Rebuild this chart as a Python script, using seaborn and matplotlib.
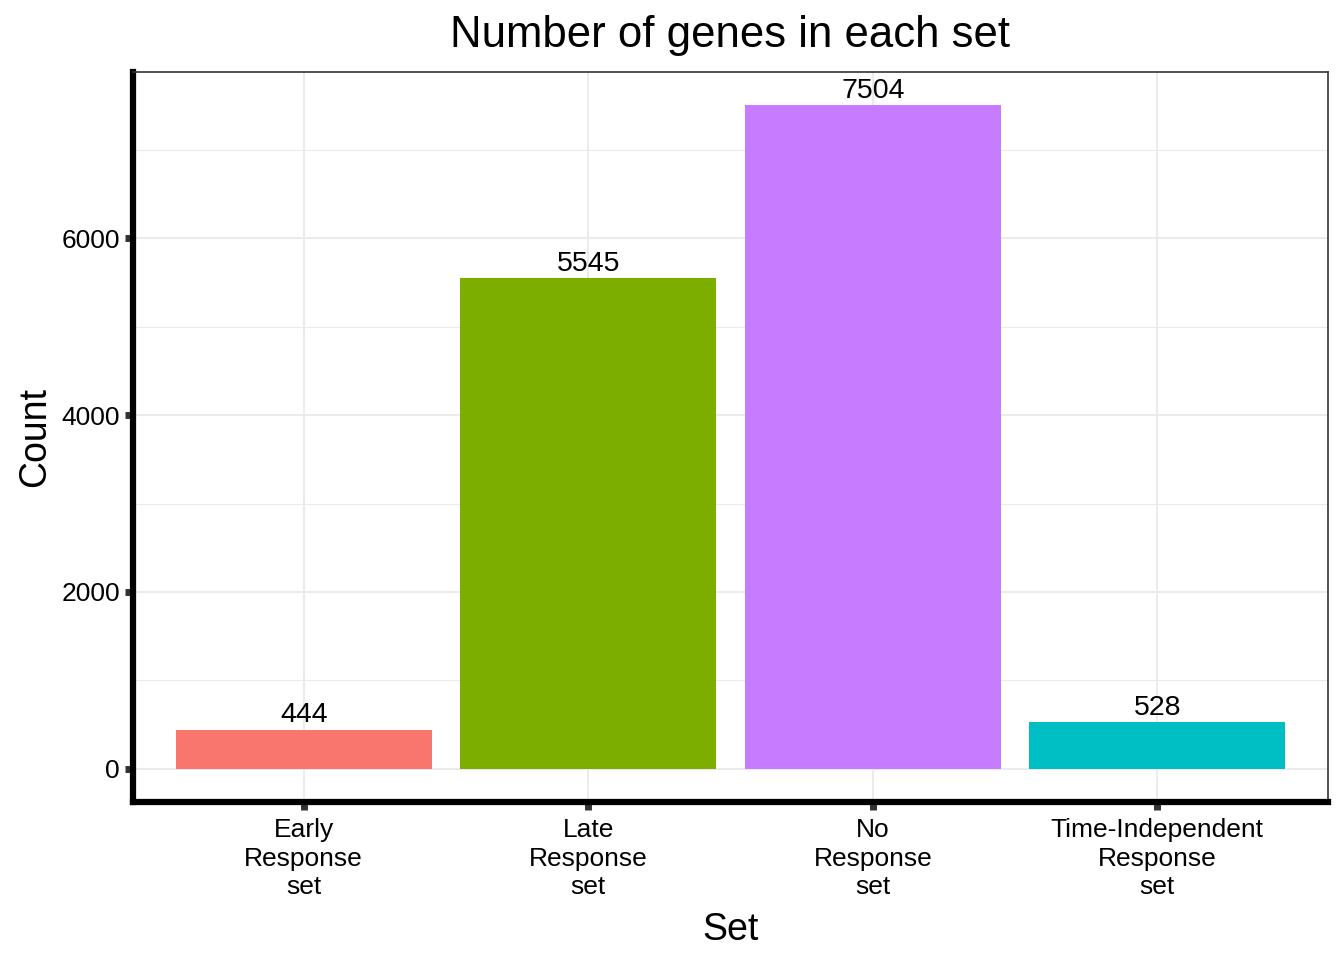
import matplotlib
matplotlib.use('Agg')
import matplotlib.pyplot as plt
import seaborn as sns
import pandas as pd
from matplotlib.ticker import FixedLocator

# values
sets = ['Early\nResponse\nset', 'Late\nResponse\nset', 'No\nResponse\nset', 'Time-Independent\nResponse\nset']
counts = [444, 5545, 7504, 528]
colors = ['#F8766D', '#7CAE00', '#C77CFF', '#00BFC4']

df = pd.DataFrame({'set': sets, 'count': counts})

sns.set_style('white')
plt.rcParams['font.family'] = ['Liberation Sans', 'DejaVu Sans']
plt.rcParams['text.color'] = 'black'

fig = plt.figure(figsize=(13.44, 9.6), dpi=100)
ax = fig.add_axes([133 / 1344, 1 - 802 / 960, (1328 - 133) / 1344, (802 - 72) / 960])

sns.barplot(data=df, x='set', y='count', hue='set', palette=colors,
            width=0.9, legend=False, saturation=1, linewidth=0, ax=ax, zorder=3)

# labels on top of bars
for i, c in enumerate(counts):
    ax.text(i, c + 15, str(c), ha='center', va='bottom', fontsize=20.5, color='black', zorder=4)

ax.set_xlim(-0.6, 3.6)
ax.set_ylim(-375, 7879)

ax.yaxis.set_major_locator(FixedLocator([0, 2000, 4000, 6000]))
ax.yaxis.set_minor_locator(FixedLocator([1000, 3000, 5000, 7000]))
ax.grid(which='major', color='#EBEBEB', linewidth=1.4, zorder=0)
ax.grid(which='minor', axis='y', color='#EBEBEB', linewidth=0.8, zorder=0)
ax.set_axisbelow(True)

for side in ['left', 'bottom']:
    ax.spines[side].set_color('black')
    ax.spines[side].set_linewidth(4.5)
    ax.spines[side].set_capstyle('projecting')
for side in ['top', 'right']:
    ax.spines[side].set_color('#333333')
    ax.spines[side].set_linewidth(1.2)

ax.tick_params(axis='both', which='major', bottom=True, left=True, length=5.5, width=5,
               color='#333333', labelsize=19, labelcolor='black', direction='out')
ax.tick_params(axis='y', which='minor', length=0)
ax.tick_params(axis='y', pad=4)
ax.tick_params(axis='x', pad=6)
for lab in ax.get_xticklabels():
    lab.set_linespacing(1.25)

ax.set_title('Number of genes in each set', fontsize=31.5, pad=18, color='black')
ax.set_xlabel('Set', fontsize=27, labelpad=9, color='black')
ax.set_ylabel('Count', fontsize=27, labelpad=6, color='black')

fig.savefig('out.png', dpi=100)
